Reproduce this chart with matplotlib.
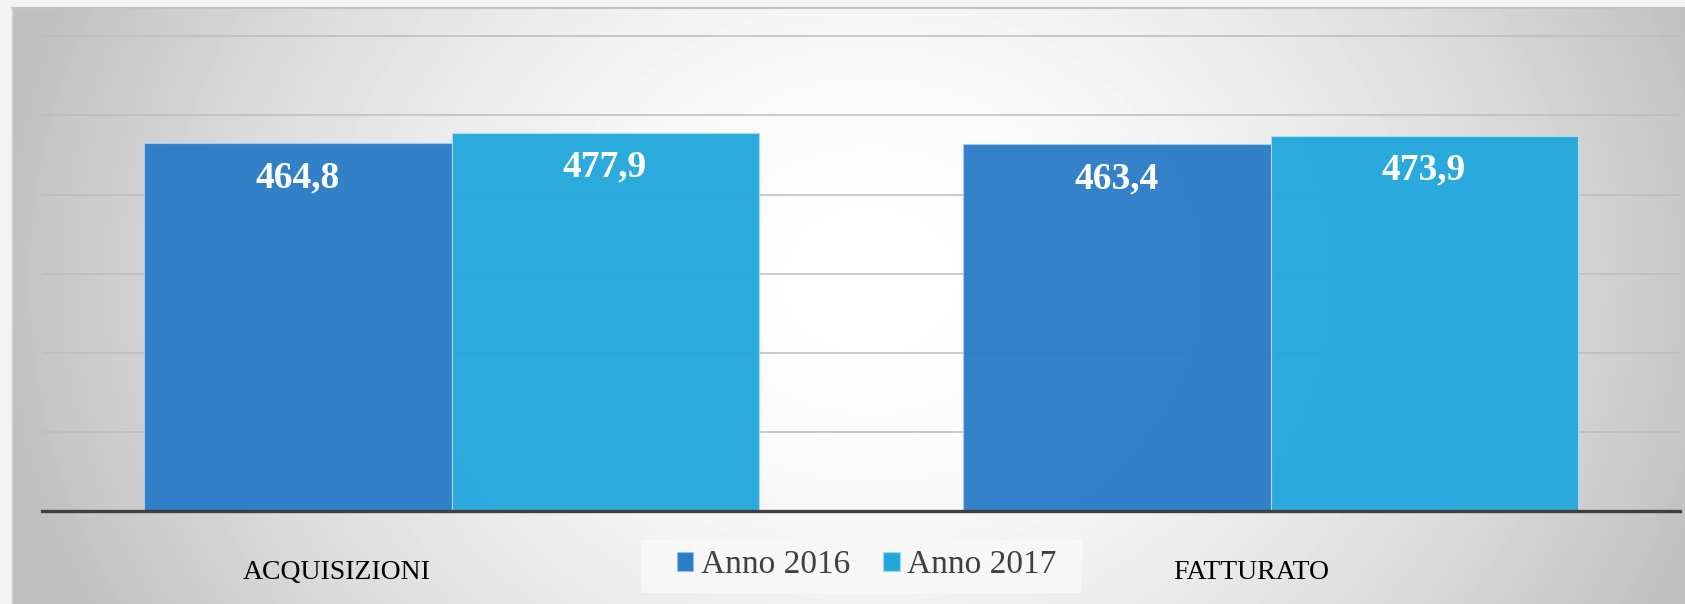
import numpy as np
import matplotlib.pyplot as plt
from matplotlib.patches import Rectangle, Patch

# data
categories = ['ACQUISIZIONI', 'FATTURATO']
anno_2016 = [464.8, 463.4]
anno_2017 = [477.9, 473.9]
series_names = ['Anno 2016', 'Anno 2017']

C16 = '#2c7dc7'
C17 = '#24a8dc'
W, H = 1685, 604

plt.rcParams['font.family'] = ['Liberation Serif', 'DejaVu Serif']

fig = plt.figure(figsize=(W / 100, H / 100), dpi=100)
fig.patch.set_facecolor('#f3f3f3')

# radial grey gradient behind the chart panel
px0, py0 = 12, 8
bg = fig.add_axes([px0 / W, 0, 1 - px0 / W, 1 - py0 / H], zorder=0)
xx, yy = np.meshgrid(np.arange(px0, W), np.arange(py0, H))
r = np.hypot((xx - 870) / 1.0, (yy - 280) / 0.85)
shade = 1 - 0.25 * np.clip(r / 880, 0, 1) ** 1.8
bg.imshow(shade, cmap='gray', vmin=0, vmax=1, aspect='auto',
          extent=(px0, W, H, py0))
bg.axis('off')
fig.add_artist(plt.Line2D([px0 / W, 1], [1 - py0 / H] * 2, color='#c4c4c4', lw=1.5))
fig.add_artist(plt.Line2D([px0 / W] * 2, [0, 1 - py0 / H], color='#d0d0d0', lw=1))

# main axes
ax = fig.add_axes([42 / W, 1 - 511 / H, (1680 - 42) / W, (511 - 34) / H], zorder=1)
ax.patch.set_alpha(0)
x = np.arange(len(categories))
bw = 0.375
b1 = ax.bar(x - bw / 2, anno_2016, bw, color=C16, alpha=0.97,
            edgecolor='#9fcdf0', linewidth=0.8, zorder=2)
b2 = ax.bar(x + bw / 2, anno_2017, bw, color=C17, alpha=0.97,
            edgecolor='#a8dcf4', linewidth=0.8, zorder=2)

ax.set_xlim(-0.5, 1.5)
ax.set_ylim(0, 603)
ax.set_yticks(np.arange(0, 601, 100))
ax.yaxis.grid(True, color='#bdbdbd', lw=1.1, zorder=0)
ax.set_axisbelow(True)
ax.tick_params(left=False, bottom=False, labelleft=False, labelbottom=False)
for s in ['top', 'right', 'left']:
    ax.spines[s].set_visible(False)
ax.spines['bottom'].set_color('#404040')
ax.spines['bottom'].set_linewidth(2.4)
ax.spines['bottom'].set_zorder(3)

# value labels
for bars, vals in [(b1, anno_2016), (b2, anno_2017)]:
    for rect, v in zip(bars, vals):
        ax.annotate(f'{v:.1f}'.replace('.', ','),
                    (rect.get_x() + rect.get_width() / 2, v),
                    xytext=(0, -31.5), textcoords='offset points',
                    ha='center', va='baseline', color='white',
                    fontsize=27, fontweight='bold', zorder=4)

# category labels (sit off-centre like the original)
label_x = [-0.1404, 0.977]
for lx, name in zip(label_x, categories):
    ax.text(lx, -68 / 477, name, transform=ax.get_xaxis_transform(),
            ha='center', va='baseline', fontsize=20, color='black')

# legend box
fig.add_artist(Rectangle((641 / W, 1 - 593 / H), (1082 - 641) / W, 53 / H,
                         transform=fig.transFigure, facecolor='#f7f7f7',
                         edgecolor='none', zorder=2))
handles = [Patch(facecolor=C16, edgecolor='#8cc0ea', lw=0.8),
           Patch(facecolor=C17, edgecolor='#9ad8f2', lw=0.8)]
leg = fig.legend(handles, series_names, loc='center', ncol=2,
                 bbox_to_anchor=(866.5 / W, 1 - 565 / H), frameon=False,
                 fontsize=24, handlelength=0.5, handleheight=0.5,
                 handletextpad=0.22, columnspacing=1.0, borderpad=0)
leg.set_zorder(3)
for t in leg.get_texts():
    t.set_color('#404040')

fig.savefig('out.png', dpi=100)
